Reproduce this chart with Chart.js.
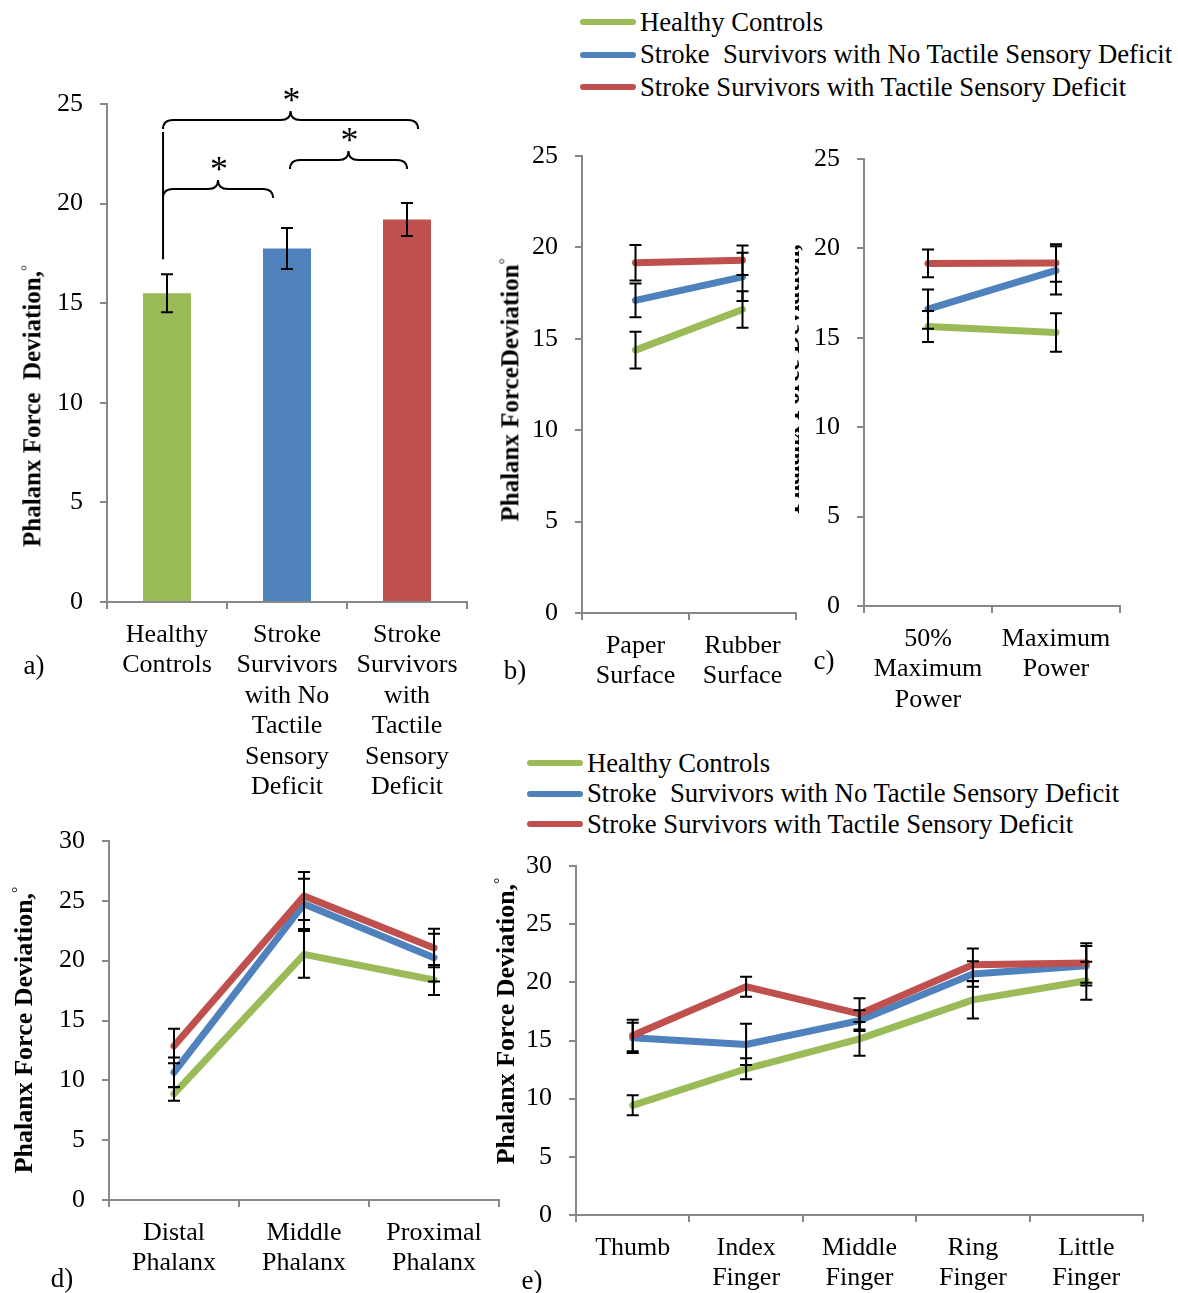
<!DOCTYPE html>
<html>
<head>
<meta charset="utf-8">
<script src="https://cdn.jsdelivr.net/npm/chart.js@4.4.1/dist/chart.umd.min.js"></script>
<style>
  body { margin: 0; background: #fff; width: 1178px; height: 1293px; position: relative; overflow: hidden;
         font-family: "Liberation Serif", "Times New Roman", serif; color: #000; }
  .box { position: absolute; }
  .ytitle { position: absolute; white-space: pre; font-weight: bold; line-height: 1;
            transform: translate(-50%, -50%) rotate(-90deg); }
  .ytitle sup { font-weight: normal; font-size: 60%; }
  .tag { position: absolute; font-size: 27px; transform: translate(-50%, -50%); }
  .legend { position: absolute; font-size: 26.7px; }
  .legend .row { display: flex; align-items: center; white-space: pre; }
  .legend .swatch { width: 56px; height: 6px; border-radius: 3px; margin-right: 4px; }
  .clip { position: absolute; overflow: hidden; }
</style>
</head>
<body>

<div class="legend" id="legendTop" style="left:580px; top:6px;"></div>
<div class="legend" id="legendBottom" style="left:527px; top:748px;"></div>

<div class="box" style="left:0px; top:64px;"><canvas id="chartA" width="477" height="738"></canvas></div>
<div class="box" style="left:522px; top:116px;"><canvas id="chartB" width="278" height="577"></canvas></div>
<div class="box" style="left:804px; top:119px;"><canvas id="chartC" width="324" height="597"></canvas></div>
<div class="box" style="left:9px; top:801px;"><canvas id="chartD" width="498" height="474"></canvas></div>
<div class="box" style="left:506px; top:826px;"><canvas id="chartE" width="645" height="464"></canvas></div>

<div class="ytitle" style="left:32px; top:406px; font-size:25px;">Phalanx Force  Deviation,<sup>°</sup></div>
<div class="ytitle" style="left:510px; top:390px; font-size:25px;">Phalanx ForceDeviation<sup>°</sup></div>
<div class="clip" style="left:795px; top:200px; width:8px; height:360px;">
  <div class="ytitle" style="left:-5px; top:179px; font-size:25px;">Phalanx Force Deviation,</div>
</div>
<div class="ytitle" style="left:23px; top:1030px; font-size:26px;">Phalanx Force Deviation,<sup>°</sup></div>
<div class="ytitle" style="left:505px; top:1021px; font-size:26px;">Phalanx Force Deviation,<sup>°</sup></div>

<div class="tag" style="left:34px; top:665px;">a)</div>
<div class="tag" style="left:515px; top:670px;">b)</div>
<div class="tag" style="left:824px; top:660px;">c)</div>
<div class="tag" style="left:62px; top:1278px;">d)</div>
<div class="tag" style="left:532px; top:1280px;">e)</div>

<script>
// groups
const groupNames = ["Healthy Controls", "Stroke  Survivors with No Tactile Sensory Deficit", "Stroke Survivors with Tactile Sensory Deficit"];
const groupColors = ["#9BBB59", "#4F81BD", "#C0504D"];

// a) overall
const labelsA = [["Healthy", "Controls"], ["Stroke", "Survivors", "with No", "Tactile", "Sensory", "Deficit"], ["Stroke", "Survivors", "with", "Tactile", "Sensory", "Deficit"]];
const meanA = [15.5, 17.75, 19.2];
const errA = [0.95, 1.03, 0.83];

// b) surface
const labelsB = [["Paper", "Surface"], ["Rubber", "Surface"]];
const healthyB = [14.38, 16.6];
const noDeficitB = [17.1, 18.39];
const deficitB = [19.16, 19.3];
const healthyErrB = [1.0, 1.0];
const noDeficitErrB = [0.92, 1.32];
const deficitErrB = [0.97, 0.81];

// c) power
const labelsC = [["50%", "Maximum", "Power"], ["Maximum", "Power"]];
const healthyC = [15.63, 15.3];
const noDeficitC = [16.6, 18.77];
const deficitC = [19.16, 19.18];
const healthyErrC = [0.87, 1.08];
const noDeficitErrC = [1.1, 1.35];
const deficitErrC = [0.78, 1.05];

// d) phalanx
const labelsD = [["Distal", "Phalanx"], ["Middle", "Phalanx"], ["Proximal", "Phalanx"]];
const healthyD = [8.86, 20.53, 18.38];
const noDeficitD = [10.67, 24.74, 20.25];
const deficitD = [12.87, 25.4, 21.06];
const healthyErrD = [0.56, 1.95, 1.25];
const noDeficitErrD = [1.23, 2.1, 2.0];
const deficitErrD = [1.45, 2.0, 1.6];

// e) finger
const labelsE = ["Thumb", ["Index", "Finger"], ["Middle", "Finger"], ["Ring", "Finger"], ["Little", "Finger"]];
const healthyE = [9.43, 12.57, 15.14, 18.49, 20.14];
const noDeficitE = [15.23, 14.66, 16.71, 20.71, 21.43];
const deficitE = [15.43, 19.63, 17.29, 21.51, 21.66];
const healthyErrE = [0.86, 0.91, 1.45, 1.6, 1.63];
const noDeficitErrE = [1.3, 1.77, 0.9, 1.1, 1.7];
const deficitErrE = [1.35, 0.86, 1.34, 1.4, 1.7];

// significance braces for a): [from category, to category, line value]
const bracesA = [
  { from: -0.033, to: 0.883, y: 20.73 },
  { from: -0.033, to: 2.092, y: 24.2 },
  { from: 1.025, to: 2.0, y: 22.19 }
];
const stemA = { at: -0.033, from: 17.2, to: 23.6 };

Chart.defaults.font.family = '"Liberation Serif", "Times New Roman", serif';
Chart.defaults.color = "#000";

const tickFont = { size: 26, lineHeight: 1.17 };

function legendHtml(id) {
  document.getElementById(id).innerHTML = groupNames.map((n, i) =>
    `<div class="row" style="height:${id === "legendTop" ? 32.5 : 30.5}px"><span class="swatch" style="background:${groupColors[i]}"></span>${n}</div>`
  ).join("");
}
legendHtml("legendTop");
legendHtml("legendBottom");

function yAxis(max, w) {
  return {
    min: 0, max: max,
    ticks: { stepSize: 5, padding: 17, color: "#000", font: tickFont },
    grid: { drawOnChartArea: false, color: "#888", lineWidth: 2, tickLength: 7 },
    border: { color: "#888", width: 2 },
    afterFit(s) { s.width = w; }
  };
}

function xAxis(h) {
  return {
    offset: true,
    ticks: { padding: 11, color: "#000", font: tickFont, maxRotation: 0, autoSkip: false },
    grid: { offset: true, drawOnChartArea: false, color: "#888", lineWidth: 2, tickLength: 7 },
    border: { color: "#888", width: 2 },
    afterFit(s) { s.height = h; }
  };
}

const errorBars = {
  id: "errorBars",
  afterDatasetsDraw(chart) {
    const ctx = chart.ctx;
    const y = chart.scales.y;
    ctx.save();
    ctx.strokeStyle = "#000";
    ctx.lineWidth = 2;
    chart.data.datasets.forEach((ds, i) => {
      if (!ds.errors) return;
      chart.getDatasetMeta(i).data.forEach((el, j) => {
        const top = y.getPixelForValue(ds.data[j] + ds.errors[j]);
        const bot = y.getPixelForValue(ds.data[j] - ds.errors[j]);
        ctx.beginPath();
        ctx.moveTo(el.x, top); ctx.lineTo(el.x, bot);
        ctx.moveTo(el.x - 6, top); ctx.lineTo(el.x + 6, top);
        ctx.moveTo(el.x - 6, bot); ctx.lineTo(el.x + 6, bot);
        ctx.stroke();
      });
    });
    ctx.restore();
  }
};

const braces = {
  id: "braces",
  afterDatasetsDraw(chart) {
    const ctx = chart.ctx;
    const { x, y } = chart.scales;
    const r = 10, lift = 9, hook = 9;
    ctx.save();
    ctx.strokeStyle = "#000";
    ctx.fillStyle = "#000";
    ctx.lineWidth = 2;
    ctx.beginPath();
    ctx.moveTo(x.getPixelForValue(stemA.at), y.getPixelForValue(stemA.from));
    ctx.lineTo(x.getPixelForValue(stemA.at), y.getPixelForValue(stemA.to));
    ctx.stroke();
    ctx.font = '36px "Liberation Serif"';
    ctx.textAlign = "center";
    ctx.textBaseline = "alphabetic";
    bracesA.forEach(b => {
      const x0 = x.getPixelForValue(b.from), x1 = x.getPixelForValue(b.to);
      const xm = (x0 + x1) / 2, yl = y.getPixelForValue(b.y);
      ctx.beginPath();
      ctx.moveTo(x0, yl + hook);
      ctx.quadraticCurveTo(x0, yl, x0 + r, yl);
      ctx.lineTo(xm - r, yl);
      ctx.quadraticCurveTo(xm, yl, xm, yl - lift);
      ctx.quadraticCurveTo(xm, yl, xm + r, yl);
      ctx.lineTo(x1 - r, yl);
      ctx.quadraticCurveTo(x1, yl, x1, yl + hook);
      ctx.stroke();
      ctx.fillText("*", xm + 1, yl - lift + 1);
    });
    ctx.restore();
  }
};

function lineSet(i, data, errors) {
  return {
    label: groupNames[i], data: data, errors: errors,
    borderColor: groupColors[i], backgroundColor: groupColors[i],
    borderWidth: 7, pointRadius: 0, tension: 0,
    borderCapStyle: "round", borderJoinStyle: "round",
    order: 2 - i
  };
}

const baseOptions = (padRight, max, yW, xH) => ({
  responsive: false,
  animation: false,
  layout: { padding: { top: 40, right: padRight, left: 0, bottom: 0 } },
  plugins: { legend: { display: false }, tooltip: { enabled: false } },
  scales: { x: xAxis(xH), y: yAxis(max, yW) }
});

// a)
new Chart(document.getElementById("chartA"), {
  type: "bar",
  data: {
    labels: labelsA,
    datasets: [{
      data: meanA, errors: errA,
      backgroundColor: groupColors,
      barPercentage: 0.4, categoryPercentage: 1.0
    }]
  },
  options: baseOptions(10, 25, 107, 200),
  plugins: [errorBars, braces]
});

// b)
new Chart(document.getElementById("chartB"), {
  type: "line",
  data: {
    labels: labelsB,
    datasets: [lineSet(0, healthyB, healthyErrB), lineSet(1, noDeficitB, noDeficitErrB), lineSet(2, deficitB, deficitErrB)]
  },
  options: baseOptions(4, 25, 60, 80),
  plugins: [errorBars]
});

// c)
new Chart(document.getElementById("chartC"), {
  type: "line",
  data: {
    labels: labelsC,
    datasets: [lineSet(0, healthyC, healthyErrC), lineSet(1, noDeficitC, noDeficitErrC), lineSet(2, deficitC, deficitErrC)]
  },
  options: baseOptions(8, 25, 60, 110),
  plugins: [errorBars]
});

// d)
new Chart(document.getElementById("chartD"), {
  type: "line",
  data: {
    labels: labelsD,
    datasets: [lineSet(0, healthyD, healthyErrD), lineSet(1, noDeficitD, noDeficitErrD), lineSet(2, deficitD, deficitErrD)]
  },
  options: baseOptions(8, 30, 100, 75),
  plugins: [errorBars]
});

// e)
new Chart(document.getElementById("chartE"), {
  type: "line",
  data: {
    labels: labelsE,
    datasets: [lineSet(0, healthyE, healthyErrE), lineSet(1, noDeficitE, noDeficitErrE), lineSet(2, deficitE, deficitErrE)]
  },
  options: baseOptions(8, 30, 70, 75),
  plugins: [errorBars]
});
</script>
</body>
</html>
